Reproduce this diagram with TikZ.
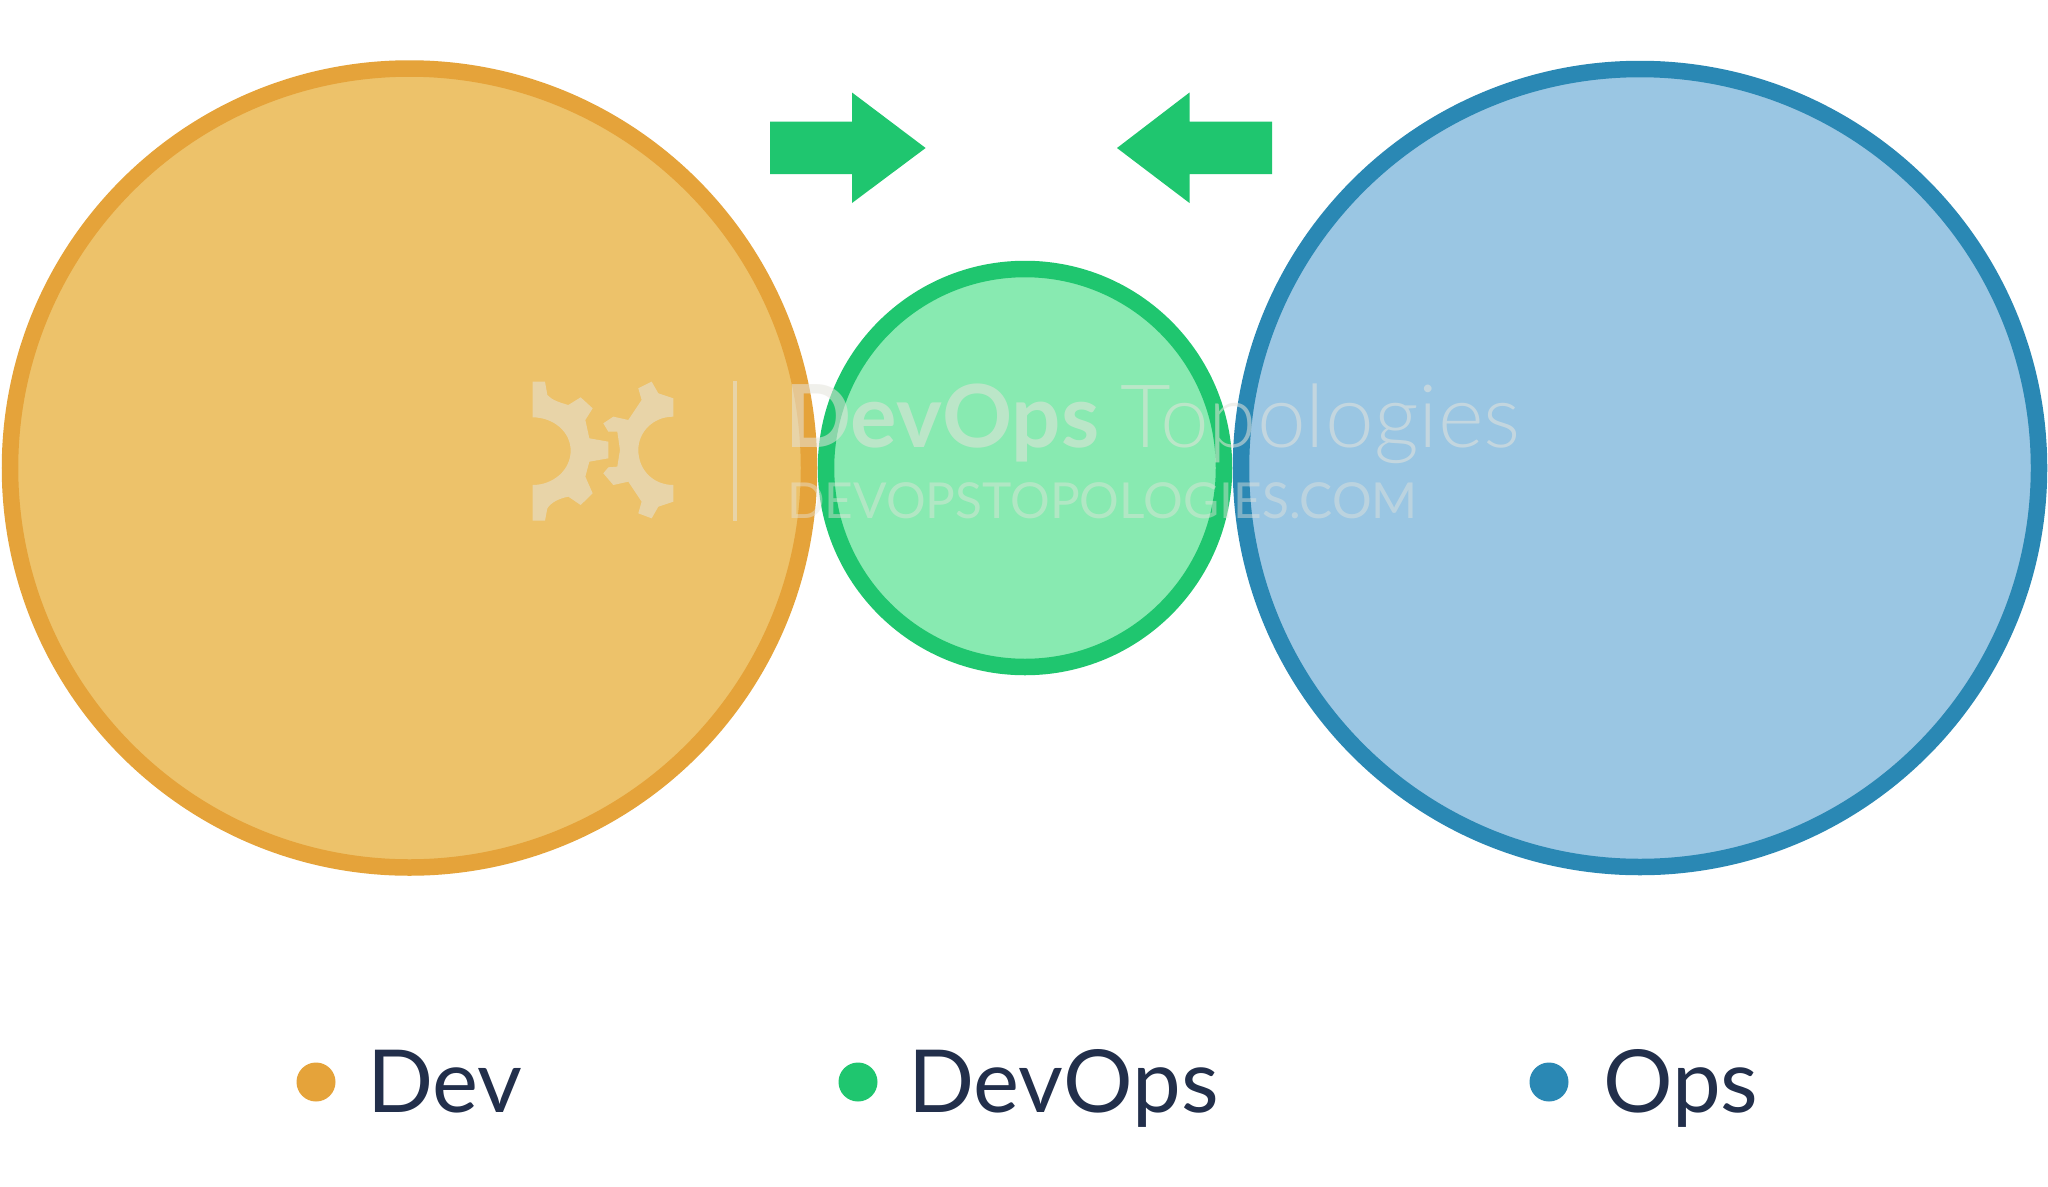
\documentclass[tikz,border=0pt]{standalone}
\usepackage{fontspec}
\setmainfont{Lato}
\newfontfamily\latolight[UprightFont={* Light},BoldFont={* Bold}]{Lato}
\definecolor{devfill}{HTML}{EDC26A}
\definecolor{devring}{HTML}{E5A33A}
\definecolor{dofill}{HTML}{88EAB1}
\definecolor{doring}{HTML}{1FC66F}
\definecolor{opsfill}{HTML}{9AC6E3}
\definecolor{opsring}{HTML}{2A88B4}
\definecolor{legendtext}{HTML}{222F4B}
\definecolor{wmcolor}{HTML}{E5E4DC}
\tikzset{
  bigcircle/.style={circle,line width=16.5pt,inner sep=0pt,minimum size=#1},
  legenddot/.style={circle,inner sep=0pt,minimum size=39pt},
  legendlabel/.style={anchor=base west,inner sep=0pt,text=legendtext,font=\fontsize{87}{87}\selectfont},
  wm/.style={anchor=base west,inner sep=0pt,text=wmcolor},
  wmshape/.style={fill=wmcolor,draw=none,opacity=.55},
  pusharrow/.style={fill=doring,draw=none}
}
\begin{document}
\begin{tikzpicture}[x=1pt,y=-1pt]
\useasboundingbox (0,0) rectangle (2048,1186);
\fill[white] (0,0) rectangle (2048,1186);
\node[bigcircle=799pt,draw=devring,fill=devfill] (dev) at (409.5,468) {};
\node[bigcircle=398pt,draw=doring,fill=dofill] (devops) at (1025,468) {};
\node[bigcircle=798pt,draw=opsring,fill=opsfill] (ops) at (1640,468) {};
\fill[pusharrow] (770,121.5) -- (852,121.5) -- (852,92.5) -- (925.6,148) -- (852,203) -- (852,174) -- (770,174) -- cycle;
\fill[pusharrow] (1272,121.5) -- (1189.5,121.5) -- (1189.5,92.5) -- (1117,148) -- (1189.5,203) -- (1189.5,174) -- (1272,174) -- cycle;
% watermark logo
\begin{scope}[shift={(510,360)},x=0.3333pt,y=-0.3333pt]
\fill[wmshape] (68,65) -- (105,65) -- (112,105) .. controls (125,120) and (150,128) .. (175,135) -- (212,112) -- (248,145) -- (226,180) -- (238,235) -- (295,245) -- (295,295) -- (238,305) -- (226,350) -- (248,400) -- (212,435) -- (175,410) .. controls (150,415) and (125,425) .. (112,445) -- (105,482) -- (68,482) -- (68,375) .. controls (130,375) and (182,330) .. (182,272) .. controls (182,215) and (130,172) .. (68,172) -- cycle;
\fill[wmshape] (385,85) -- (425,65) -- (445,100) -- (490,115) -- (490,170) .. controls (430,170) and (385,215) .. (385,270) .. controls (385,330) and (430,375) .. (490,375) -- (490,425) -- (445,440) -- (425,475) -- (385,460) -- (395,425) -- (355,365) -- (310,375) -- (280,340) -- (295,322) -- (322,320) -- (330,270) -- (322,215) -- (295,215) -- (280,190) -- (310,170) -- (355,180) -- (395,120) -- cycle;
\fill[wmshape] (669,62) rectangle (681,482);
\end{scope}
\node[wm,text opacity=.55,font=\bfseries\fontsize{87}{87}\selectfont] (wm1) at (785,447) {DevOps};
\node[wm,text opacity=.55,font=\latolight\fontsize{87.5}{87.5}\selectfont] (wm2) at (1120,447) {Topologies};
\node[wm,text opacity=.45,font=\fontsize{49.6}{49.6}\selectfont] (wm3) at (787,518) {DEVOPSTOPOLOGIES.COM};
% legend
\node[legenddot,fill=devring] (d1) at (316,1082) {};
\node[legenddot,fill=doring] (d2) at (858,1082) {};
\node[legenddot,fill=opsring] (d3) at (1549,1082) {};
\node[legendlabel] (l1) at (367,1112) {Dev};
\node[legendlabel] (l2) at (908,1112) {DevOps};
\node[legendlabel] (l3) at (1603,1112) {Ops};
\end{tikzpicture}
\end{document}
